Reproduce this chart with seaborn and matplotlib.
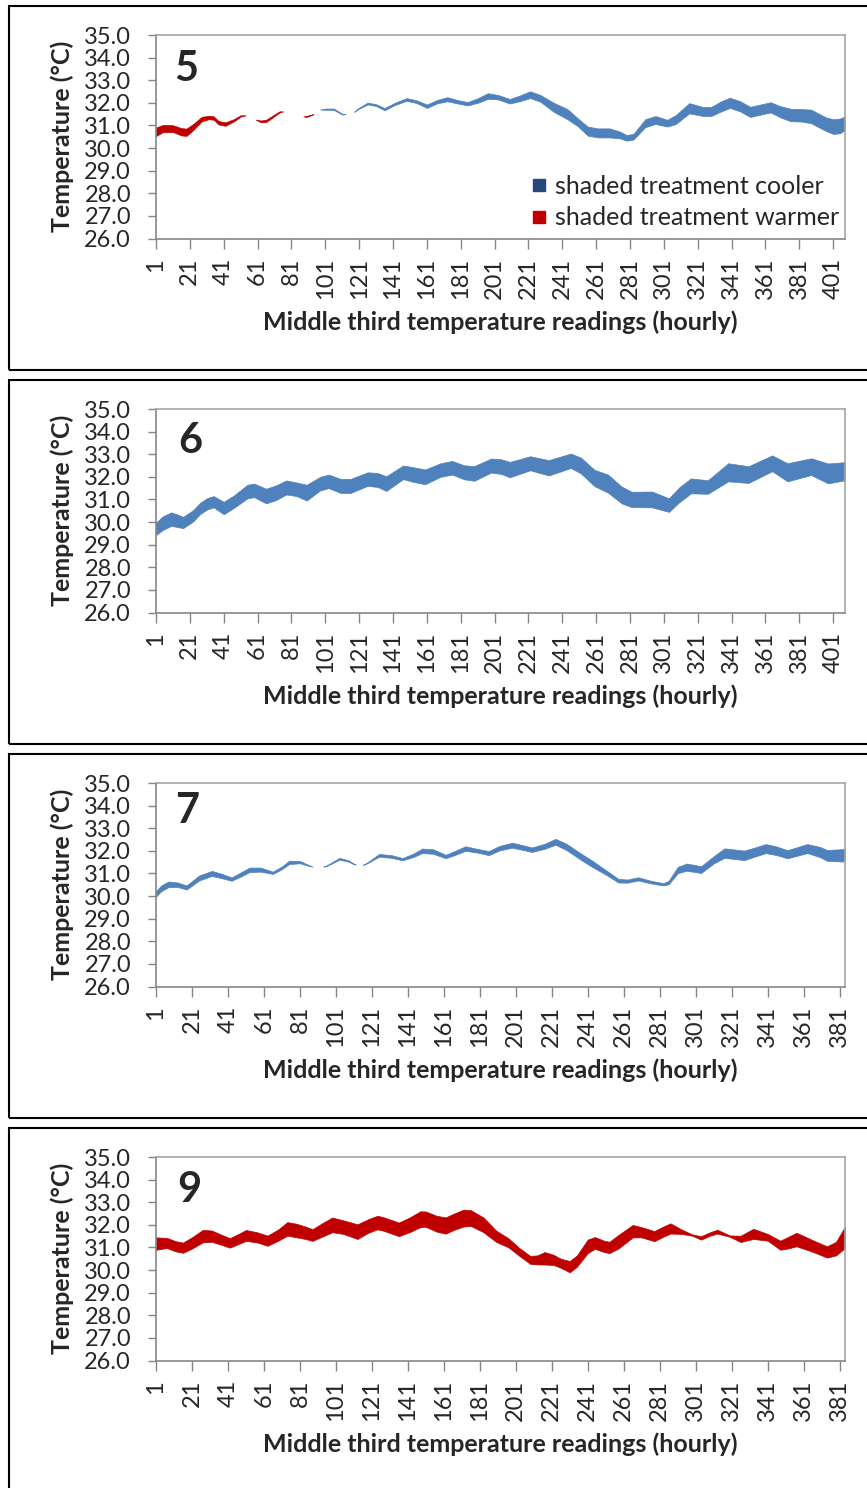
import numpy as np
import pandas as pd
import matplotlib
matplotlib.use("Agg")
import matplotlib.pyplot as plt
from matplotlib.lines import Line2D
from matplotlib.patches import Rectangle
import seaborn as sns

# --- Data: hour, band centre (degC), signed difference (+ warmer / - cooler) ---
hours_5 = [1, 5, 11, 16, 19, 23, 28, 32, 35, 38, 42, 47, 51, 54, 60, 63, 66, 70, 74, 76,
           88, 90, 92, 94, 98, 101, 106, 111, 113, 118, 120, 126, 131, 136, 142, 149, 155,
           161, 167, 173, 179, 185, 191, 197, 203, 210, 216, 222, 228, 236, 244, 250, 256,
           262, 269, 275, 279, 283, 290, 296, 303, 308, 316, 324, 329, 335, 340, 346, 352,
           358, 364, 370, 376, 382, 388, 393, 397, 401, 405, 408]
mid_5 = [30.72, 30.86, 30.86, 30.72, 30.70, 30.93, 31.28, 31.35, 31.33, 31.12, 31.06, 31.23,
         31.42, 31.45, 31.25, 31.18, 31.20, 31.40, 31.60, 31.62, 31.40, 31.40, 31.45, 31.50,
         31.70, 31.72, 31.72, 31.50, 31.50, 31.60, 31.72, 31.97, 31.90, 31.72, 31.95, 32.15,
         32.05, 31.85, 32.05, 32.16, 32.05, 31.96, 32.10, 32.30, 32.25, 32.07, 32.20, 32.36,
         32.20, 31.80, 31.50, 31.15, 30.75, 30.67, 30.67, 30.58, 30.45, 30.50, 31.10, 31.24,
         31.10, 31.26, 31.76, 31.62, 31.62, 31.85, 32.00, 31.85, 31.60, 31.70, 31.80, 31.60,
         31.46, 31.45, 31.40, 31.20, 31.05, 30.95, 30.98, 31.10]
diff_5 = [0.38, 0.32, 0.30, 0.32, 0.32, 0.27, 0.20, 0.15, 0.15, 0.15, 0.15, 0.10, 0.06, 0.0,
          0.0, 0.08, 0.10, 0.08, 0.05, 0.0, 0.0, 0.05, 0.03, 0.0, 0.0, -0.05, -0.06, -0.04,
          0.0, 0.0, -0.04, -0.08, -0.08, -0.10, -0.10, -0.12, -0.12, -0.15, -0.15, -0.18,
          -0.15, -0.15, -0.20, -0.25, -0.20, -0.20, -0.25, -0.30, -0.30, -0.40, -0.45, -0.35,
          -0.40, -0.40, -0.40, -0.30, -0.25, -0.25, -0.35, -0.35, -0.30, -0.40, -0.45, -0.40,
          -0.40, -0.45, -0.45, -0.45, -0.45, -0.45, -0.45, -0.50, -0.55, -0.55, -0.60, -0.60,
          -0.60, -0.65, -0.65, -0.60]

hours_6 = [1, 5, 10, 14, 17, 23, 27, 31, 35, 41, 47, 55, 59, 66, 72, 78, 84, 90, 98, 103,
           110, 116, 126, 132, 137, 147, 153, 160, 169, 176, 183, 189, 199, 205, 210, 222,
           233, 246, 252, 260, 268, 276, 282, 294, 304, 310, 317, 327, 339, 351, 365, 374,
           388, 398, 408]
mid_6 = [29.70, 29.95, 30.13, 30.05, 29.98, 30.28, 30.60, 30.80, 30.90, 30.62, 30.90, 31.35,
         31.40, 31.15, 31.30, 31.53, 31.45, 31.30, 31.70, 31.80, 31.60, 31.60, 31.90, 31.86,
         31.70, 32.20, 32.10, 32.00, 32.30, 32.40, 32.20, 32.15, 32.50, 32.45, 32.32, 32.60,
         32.40, 32.71, 32.50, 31.95, 31.70, 31.20, 31.00, 31.00, 30.75, 31.20, 31.60, 31.55,
         32.20, 32.10, 32.60, 32.20, 32.45, 32.15, 32.25]
diff_6 = [-0.55, -0.60, -0.60, -0.55, -0.50, -0.50, -0.50, -0.50, -0.50, -0.55, -0.55, -0.60,
          -0.60, -0.65, -0.65, -0.62, -0.60, -0.70, -0.60, -0.60, -0.62, -0.62, -0.60, -0.62,
          -0.65, -0.60, -0.65, -0.65, -0.60, -0.60, -0.62, -0.65, -0.62, -0.65, -0.68, -0.62,
          -0.68, -0.64, -0.70, -0.72, -0.80, -0.74, -0.68, -0.70, -0.60, -0.66, -0.66, -0.60,
          -0.80, -0.74, -0.70, -0.80, -0.74, -0.88, -0.80]

hours_7 = [1, 4, 8, 13, 18, 25, 32, 37, 43, 48, 53, 59, 66, 71, 75, 81, 86, 88, 94, 96, 103,
           108, 111, 112, 116, 118, 125, 132, 138, 144, 149, 155, 162, 167, 173, 180, 186,
           192, 199, 210, 217, 223, 229, 238, 243, 251, 258, 263, 269, 276, 283, 286, 291,
           296, 304, 311, 317, 328, 334, 340, 346, 352, 363, 370, 374, 383, 384]
mid_7 = [30.10, 30.35, 30.52, 30.50, 30.38, 30.80, 31.00, 30.90, 30.75, 30.95, 31.16, 31.17,
         31.03, 31.25, 31.49, 31.50, 31.35, 31.30, 31.30, 31.35, 31.65, 31.55, 31.42, 31.40,
         31.38, 31.45, 31.80, 31.75, 31.63, 31.80, 32.00, 31.97, 31.75, 31.90, 32.10, 32.00,
         31.90, 32.12, 32.25, 32.05, 32.20, 32.40, 32.18, 31.70, 31.45, 31.05, 30.68, 30.66,
         30.76, 30.62, 30.52, 30.60, 31.15, 31.28, 31.17, 31.60, 31.90, 31.80, 31.95, 32.10,
         32.00, 31.85, 32.10, 31.95, 31.80, 31.80, 31.90]
diff_7 = [-0.25, -0.25, -0.25, -0.20, -0.18, -0.22, -0.22, -0.20, -0.15, -0.18, -0.20, -0.18,
          -0.10, -0.12, -0.15, -0.10, -0.04, 0.0, 0.0, -0.03, -0.08, -0.06, -0.03, 0.0, 0.0,
          -0.03, -0.12, -0.12, -0.10, -0.15, -0.20, -0.20, -0.15, -0.18, -0.20, -0.16, -0.18,
          -0.20, -0.22, -0.20, -0.22, -0.26, -0.28, -0.28, -0.28, -0.20, -0.16, -0.14, -0.14,
          -0.12, -0.10, -0.15, -0.28, -0.32, -0.30, -0.32, -0.42, -0.42, -0.40, -0.40, -0.38,
          -0.36, -0.40, -0.45, -0.48, -0.55, -0.50]

hours_9 = [1, 7, 12, 16, 21, 27, 32, 37, 42, 47, 51, 57, 63, 69, 74, 79, 84, 88, 94, 99, 105,
           113, 119, 124, 127, 136, 142, 148, 151, 157, 162, 167, 172, 176, 183, 190, 197,
           203, 209, 213, 217, 222, 226, 231, 235, 241, 245, 250, 253, 258, 266, 271, 278,
           283, 287, 293, 299, 304, 309, 313, 320, 326, 333, 341, 348, 352, 357, 365, 371,
           374, 379, 384]
mid_9 = [31.17, 31.20, 31.05, 30.99, 31.20, 31.50, 31.50, 31.35, 31.20, 31.38, 31.53, 31.45,
         31.30, 31.55, 31.82, 31.75, 31.65, 31.55, 31.80, 32.00, 31.90, 31.70, 31.95, 32.10,
         32.05, 31.80, 32.00, 32.25, 32.25, 32.05, 31.97, 32.15, 32.30, 32.30, 32.00, 31.50,
         31.20, 30.80, 30.45, 30.45, 30.52, 30.45, 30.30, 30.15, 30.40, 31.05, 31.20, 31.05,
         31.00, 31.25, 31.72, 31.67, 31.50, 31.70, 31.84, 31.70, 31.55, 31.42, 31.60, 31.70,
         31.50, 31.38, 31.60, 31.45, 31.10, 31.20, 31.35, 31.10, 30.90, 30.80, 30.95, 31.45]
diff_9 = [0.55, 0.45, 0.45, 0.45, 0.50, 0.55, 0.50, 0.45, 0.42, 0.45, 0.48, 0.45, 0.45, 0.50,
          0.60, 0.60, 0.55, 0.52, 0.60, 0.65, 0.60, 0.65, 0.60, 0.60, 0.60, 0.60, 0.65, 0.70,
          0.68, 0.70, 0.72, 0.72, 0.75, 0.70, 0.65, 0.50, 0.40, 0.35, 0.35, 0.40, 0.55, 0.45,
          0.40, 0.50, 0.50, 0.60, 0.52, 0.50, 0.50, 0.60, 0.55, 0.45, 0.45, 0.45, 0.45, 0.20,
          0.06, 0.15, 0.15, 0.17, 0.06, 0.28, 0.45, 0.30, 0.40, 0.50, 0.60, 0.52, 0.50, 0.50,
          0.60, 0.95]

panel_labels = ['5', '6', '7', '9']
panel_hours = [408, 408, 384, 384]
y_ticks = [26, 27, 28, 29, 30, 31, 32, 33, 34, 35]
legend_labels = ['shaded treatment cooler', 'shaded treatment warmer']
x_title = 'Middle third temperature readings (hourly)'
y_title = 'Temperature (°C)'

series = [(hours_5, mid_5, diff_5), (hours_6, mid_6, diff_6),
          (hours_7, mid_7, diff_7), (hours_9, mid_9, diff_9)]

# --- Style ---
COOL = '#4F81BD'
COOL_KEY = '#24497A'
WARM = '#C00000'
AXIS_GREY = '#868686'
FRAME_GREY = '#A6A6A6'
W, H = 867, 1488
STEP = 374
number_pos = [(186, 69), (190, 441), (187, 811), (189, 1190)]

sns.set_theme(style="white")
plt.rcParams['font.family'] = ['Lato', 'DejaVu Sans']


def fx(px):
    return px / W


def fy(py):
    return 1 - py / H


def band_runs(hours, mid, diff):
    # contiguous stretches of one sign, closed by the neighbouring zero points
    d = np.asarray(diff)
    n = len(d)
    out = []
    for sign, colour in [(-1, COOL), (1, WARM)]:
        mask = np.sign(d) == sign
        i = 0
        while i < n:
            if not mask[i]:
                i += 1
                continue
            j = i
            while j + 1 < n and mask[j + 1]:
                j += 1
            lo = i - 1 if i > 0 and d[i - 1] == 0 else i
            hi = j + 1 if j + 1 < n and d[j + 1] == 0 else j
            rows = []
            for idx in range(lo, hi + 1):
                half = abs(d[idx]) / 2
                rows.append((hours[idx], mid[idx] - half))
                rows.append((hours[idx], mid[idx] + half))
            out.append((colour, pd.DataFrame(rows, columns=['hour', 'temp'])))
            i = j + 1
    return out


fig = plt.figure(figsize=(W / 100, H / 100), dpi=100)

for k in range(4):
    off = STEP * k
    fig.patches.append(Rectangle((fx(9), fy(370 + off)), 920 / W, 364 / H,
                                 transform=fig.transFigure, fill=False,
                                 lw=1.5, ec='black', zorder=0))
    top = 35 + off
    ax = fig.add_axes([fx(156), fy(top + 203.5), (845 - 156) / W, 203.5 / H])

    hours, mid, diff = series[k]
    for colour, run in band_runs(hours, mid, diff):
        sns.lineplot(data=run, x='hour', y='temp', estimator='mean',
                     errorbar=('pi', 100), color=colour, linewidth=0, ax=ax,
                     err_kws={'alpha': 1, 'linewidth': 0.5})

    n = panel_hours[k]
    ax.set_xlim(1, n)
    ax.set_ylim(26, 35)
    xt = list(range(1, n + 1, 20))
    ax.set_xticks(xt)
    ax.set_xticklabels([str(v) for v in xt])
    ax.set_yticks(y_ticks)
    ax.set_yticklabels([f'{v:.1f}' for v in y_ticks])
    ax.set_xlabel('')
    ax.set_ylabel('')
    ax.tick_params(axis='x', bottom=True, direction='out', length=7, width=1,
                   color=AXIS_GREY, pad=7, labelsize=17, labelrotation=90)
    ax.tick_params(axis='y', left=True, direction='out', length=6, width=1,
                   color=AXIS_GREY, pad=12, labelsize=17)
    for side in ['left', 'bottom']:
        ax.spines[side].set_color(AXIS_GREY)
        ax.spines[side].set_linewidth(1.2)
    for side in ['top', 'right']:
        ax.spines[side].set_color(FRAME_GREY)
        ax.spines[side].set_linewidth(1.2)

    nx, ny = number_pos[k]
    fig.text(fx(nx), fy(ny), panel_labels[k], fontsize=30, fontweight='bold',
             ha='center', va='center')
    fig.text(fx(500), fy(322 + off), x_title, fontsize=18, fontweight='bold',
             ha='center', va='center')
    fig.text(fx(62), fy(top + 101.75), y_title, fontsize=18, fontweight='bold',
             ha='center', va='center', rotation=90)

    if k == 0:
        handles = [Line2D([], [], marker='s', linestyle='none', markersize=8.5,
                          color=COOL_KEY),
                   Line2D([], [], marker='s', linestyle='none', markersize=8.5,
                          color=WARM)]
        ax.legend(handles, legend_labels, loc='lower right',
                  bbox_to_anchor=(0.992, 0.045), frameon=False, fontsize=18,
                  handlelength=0.7, handletextpad=0.3, labelspacing=0.33,
                  borderpad=0, borderaxespad=0)

fig.savefig('out.png', dpi=100)
